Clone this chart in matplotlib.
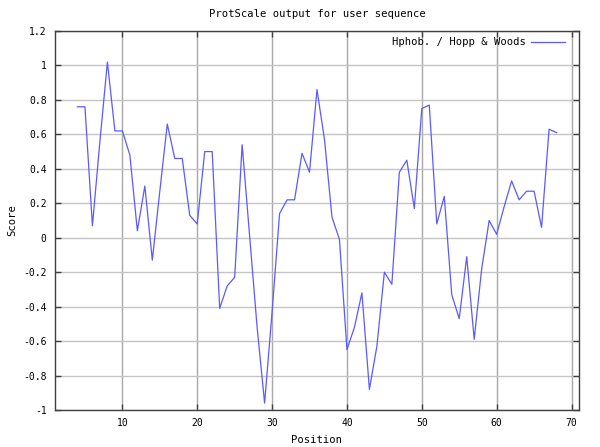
import matplotlib
matplotlib.use("Agg")
import matplotlib.pyplot as plt
from matplotlib.ticker import FuncFormatter, MultipleLocator

positions = list(range(4, 69))
scores = [0.76, 0.76, 0.07, 0.56, 1.02, 0.62, 0.62, 0.48, 0.04, 0.30,
          -0.13, 0.27, 0.66, 0.46, 0.46, 0.13, 0.08, 0.50, 0.50, -0.41,
          -0.28, -0.23, 0.54, 0.01, -0.52, -0.96, -0.43, 0.14, 0.22, 0.22,
          0.49, 0.38, 0.86, 0.57, 0.12, -0.01, -0.65, -0.52, -0.32, -0.88,
          -0.63, -0.20, -0.27, 0.38, 0.45, 0.17, 0.75, 0.77, 0.08, 0.24,
          -0.33, -0.47, -0.11, -0.59, -0.18, 0.10, 0.02, 0.18, 0.33, 0.22,
          0.27, 0.27, 0.06, 0.63, 0.61]

title = "ProtScale output for user sequence"
series_label = "Hphob. / Hopp & Woods"
x_label = "Position"
y_label = "Score"

font = "DejaVu Sans Mono"
fs = 7.6
tfs = 7

fig = plt.figure(figsize=(6.0, 4.47), dpi=100)
ax = fig.add_axes([55/600, 1-410/447, (579-55)/600, (410-31)/447])

ax.plot(positions, scores, color="#5a5aff", lw=0.9, label=series_label)

ax.set_xlim(1, 71)
ax.set_ylim(-1, 1.2)
ax.yaxis.set_major_locator(MultipleLocator(0.2))
ax.set_xticks([10, 20, 30, 40, 50, 60, 70])
ax.yaxis.set_major_formatter(FuncFormatter(lambda v, p: ("%.1f" % v).rstrip("0").rstrip(".") if abs(v) > 1e-9 else "0"))

ax.grid(axis="x", color="#a8a8a8", lw=1.0)
ax.grid(axis="y", color="#c4c4c4", lw=1.0)
ax.set_axisbelow(True)

ax.tick_params(direction="in", length=4, width=1, top=True, right=True,
               colors="#404040", labelcolor="black", labelsize=tfs, pad=6)
for lab in ax.get_xticklabels() + ax.get_yticklabels():
    lab.set_family(font)
for s in ax.spines.values():
    s.set_color("#404040")
    s.set_linewidth(1.0)

ax.set_title(title, fontsize=fs, family=font, pad=10)
ax.set_xlabel(x_label, fontsize=fs, family=font, labelpad=5)
ax.set_ylabel(y_label, fontsize=fs, family=font, labelpad=4)

leg = ax.legend(loc="upper right", bbox_to_anchor=(0.985, 1.0), frameon=False,
                prop={"family": font, "size": fs},
                handlelength=3.2, borderaxespad=0.2, handletextpad=0.5,
                markerfirst=False)

fig.savefig("out.png", dpi=100)
